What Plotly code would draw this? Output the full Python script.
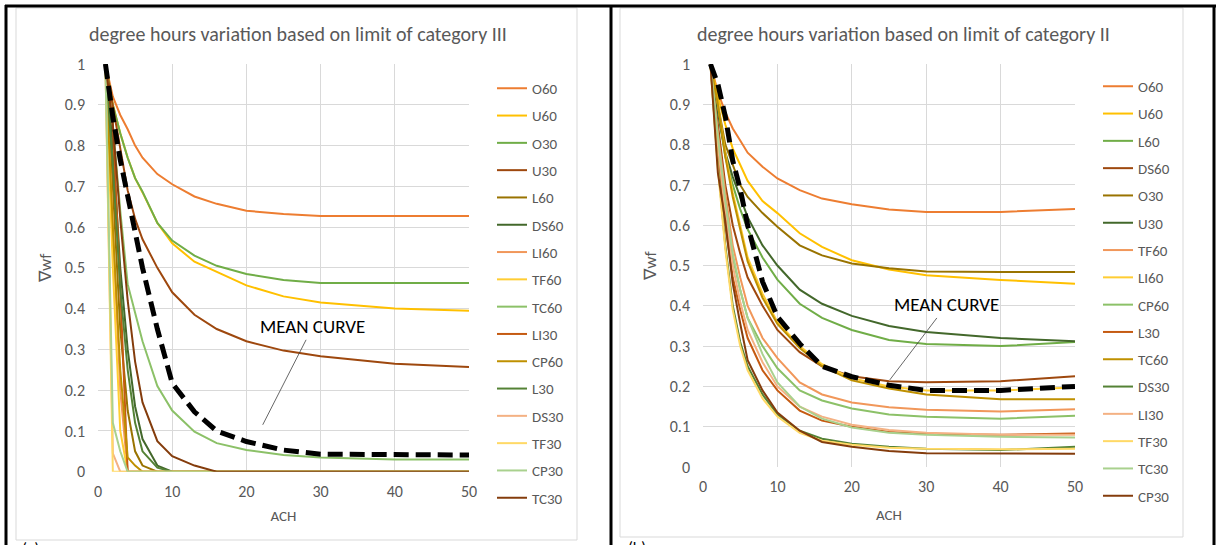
import plotly.graph_objects as go

W, H = 1216, 545
def px(x): return x / W
def py(y): return 1 - y / H

ach = [1, 2, 3, 4, 5, 6, 8, 10, 13, 16, 20, 25, 30, 40, 50]

# ---- Panel (a): limit of category III ----
names_a = ["O60", "U60", "O30", "U30", "L60", "DS60", "LI60", "TF60",
           "TC60", "LI30", "CP60", "L30", "DS30", "TF30", "CP30", "TC30"]
O60_a  = [1, 0.92, 0.875, 0.84, 0.80, 0.77, 0.73, 0.705, 0.675, 0.657, 0.64, 0.632, 0.627, 0.627, 0.627]
U60_a  = [1, 0.90, 0.83, 0.77, 0.72, 0.685, 0.61, 0.56, 0.515, 0.49, 0.457, 0.43, 0.415, 0.40, 0.395]
O30_a  = [1, 0.90, 0.83, 0.77, 0.72, 0.687, 0.61, 0.567, 0.53, 0.505, 0.485, 0.47, 0.463, 0.463, 0.463]
U30_a  = [1, 0.90, 0.79, 0.69, 0.62, 0.57, 0.50, 0.44, 0.385, 0.35, 0.32, 0.297, 0.283, 0.265, 0.257]
L60_a  = [1, 0.70, 0.35, 0.15, 0.05, 0.015, 0, 0, 0, 0, 0, 0, 0, 0, 0]
DS60_a = [1, 0.80, 0.50, 0.30, 0.16, 0.08, 0.015, 0, 0, 0, 0, 0, 0, 0, 0]
LI60_a = [1, 0.60, 0.20, 0, 0, 0, 0, 0, 0, 0, 0, 0, 0, 0, 0]
TF60_a = [1, 0.50, 0.10, 0, 0, 0, 0, 0, 0, 0, 0, 0, 0, 0, 0]
TC60_a = [1, 0.85, 0.64, 0.46, 0.39, 0.32, 0.21, 0.15, 0.098, 0.07, 0.053, 0.041, 0.035, 0.03, 0.03]
LI30_a = [1, 0.85, 0.45, 0, 0, 0, 0, 0, 0, 0, 0, 0, 0, 0, 0]
CP60_a = [1, 0.60, 0.25, 0.035, 0.015, 0, 0, 0, 0, 0, 0, 0, 0, 0, 0]
L30_a  = [1, 0.75, 0.45, 0.25, 0.12, 0.05, 0.01, 0, 0, 0, 0, 0, 0, 0, 0]
DS30_a = [1, 0.045, 0, 0, 0, 0, 0, 0, 0, 0, 0, 0, 0, 0, 0]
TF30_a = [1, 0, 0, 0, 0, 0, 0, 0, 0, 0, 0, 0, 0, 0, 0]
CP30_a = [1, 0.12, 0.05, 0, 0, 0, 0, 0, 0, 0, 0, 0, 0, 0, 0]
TC30_a = [1, 0.85, 0.62, 0.42, 0.27, 0.17, 0.075, 0.038, 0.015, 0, 0, 0, 0, 0, 0]
MEAN_a = [1, 0.87, 0.765, 0.675, 0.60, 0.50, 0.35, 0.217, 0.147, 0.10, 0.074, 0.053, 0.043, 0.041, 0.041]
series_a = [O60_a, U60_a, O30_a, U30_a, L60_a, DS60_a, LI60_a, TF60_a,
            TC60_a, LI30_a, CP60_a, L30_a, DS30_a, TF30_a, CP30_a, TC30_a]

# ---- Panel (b): limit of category II ----
names_b = ["O60", "U60", "L60", "DS60", "O30", "U30", "TF60", "LI60",
           "CP60", "L30", "TC60", "DS30", "LI30", "TF30", "TC30", "CP30"]
O60_b  = [1, 0.93, 0.88, 0.84, 0.81, 0.78, 0.745, 0.716, 0.687, 0.666, 0.652, 0.639, 0.633, 0.633, 0.64]
U60_b  = [1, 0.92, 0.85, 0.79, 0.75, 0.71, 0.66, 0.63, 0.58, 0.546, 0.513, 0.49, 0.476, 0.464, 0.455]
L60_b  = [1, 0.88, 0.77, 0.70, 0.64, 0.59, 0.52, 0.465, 0.405, 0.37, 0.34, 0.315, 0.305, 0.30, 0.31]
DS60_b = [1, 0.85, 0.70, 0.60, 0.53, 0.47, 0.40, 0.34, 0.285, 0.25, 0.225, 0.213, 0.21, 0.213, 0.225]
O30_b  = [1, 0.90, 0.80, 0.75, 0.70, 0.67, 0.63, 0.596, 0.55, 0.525, 0.505, 0.493, 0.485, 0.484, 0.484]
U30_b  = [1, 0.88, 0.78, 0.72, 0.67, 0.62, 0.55, 0.50, 0.44, 0.405, 0.375, 0.35, 0.335, 0.32, 0.312]
TF60_b = [1, 0.83, 0.68, 0.55, 0.47, 0.40, 0.32, 0.27, 0.21, 0.18, 0.16, 0.148, 0.142, 0.138, 0.143]
LI60_b = [1, 0.90, 0.78, 0.68, 0.60, 0.52, 0.43, 0.36, 0.30, 0.255, 0.22, 0.20, 0.19, 0.19, 0.197]
CP60_b = [1, 0.80, 0.65, 0.52, 0.44, 0.37, 0.30, 0.245, 0.19, 0.165, 0.145, 0.13, 0.125, 0.12, 0.127]
L30_b  = [1, 0.78, 0.60, 0.47, 0.39, 0.32, 0.24, 0.19, 0.14, 0.115, 0.10, 0.087, 0.082, 0.08, 0.083]
TC60_b = [1, 0.90, 0.77, 0.67, 0.59, 0.51, 0.42, 0.355, 0.295, 0.25, 0.215, 0.195, 0.18, 0.168, 0.168]
DS30_b = [1, 0.75, 0.55, 0.40, 0.31, 0.25, 0.18, 0.13, 0.09, 0.07, 0.058, 0.05, 0.045, 0.042, 0.05]
LI30_b = [1, 0.80, 0.63, 0.50, 0.41, 0.34, 0.26, 0.20, 0.15, 0.125, 0.105, 0.092, 0.085, 0.08, 0.08]
TF30_b = [1, 0.74, 0.54, 0.39, 0.30, 0.24, 0.17, 0.125, 0.085, 0.065, 0.055, 0.048, 0.045, 0.044, 0.045]
TC30_b = [1, 0.82, 0.66, 0.53, 0.44, 0.37, 0.28, 0.21, 0.15, 0.12, 0.098, 0.085, 0.08, 0.075, 0.073]
CP30_b = [1, 0.73, 0.61, 0.455, 0.356, 0.265, 0.19, 0.135, 0.09, 0.062, 0.05, 0.04, 0.034, 0.033, 0.033]
MEAN_b = [1, 0.95, 0.87, 0.76, 0.69, 0.60, 0.46, 0.373, 0.306, 0.25, 0.224, 0.203, 0.19, 0.19, 0.20]
series_b = [O60_b, U60_b, L60_b, DS60_b, O30_b, U30_b, TF60_b, LI60_b,
            CP60_b, L30_b, TC60_b, DS30_b, LI30_b, TF30_b, TC30_b, CP30_b]

palette = ["#ED7D31", "#FFC000", "#70AD47", "#9E480E", "#997300", "#43682B",
           "#F1975A", "#FFCD33", "#8CC168", "#C55A11", "#BF9000", "#548235",
           "#F4B183", "#FFD966", "#A9D18E", "#843C0C"]

titles = ["degree hours variation based on limit of category III",
          "degree hours variation based on limit of category II"]

FONT = "Calibri, Carlito, Lato, sans-serif"
GREY_TXT = "#595959"
GRID = "#D9D9D9"

fig = go.Figure()

panels = [(names_a, series_a, MEAN_a, "x", "y", "legend"),
          (names_b, series_b, MEAN_b, "x2", "y2", "legend2")]
for pi, (names, series, mean, xa, ya, lg) in enumerate(panels):
    for i, (nm, vals) in enumerate(zip(names, series)):
        fig.add_trace(go.Scatter(
            x=ach, y=vals, name=nm, mode="lines", xaxis=xa, yaxis=ya,
            line=dict(color=palette[i], width=2), legend=lg,
            legendgroup=f"{pi}_{nm}"))
    fig.add_trace(go.Scatter(
        x=ach, y=mean, name="MEAN CURVE", mode="lines", xaxis=xa, yaxis=ya,
        line=dict(color="black", width=5, dash="15px,7px"), showlegend=False))

axis_common = dict(showgrid=True, gridcolor=GRID, gridwidth=1, zeroline=False,
                   ticks="", tickfont=dict(family=FONT, size=16, color=GREY_TXT),
                   showline=False, automargin=False)
xtitle_font = dict(family=FONT, size=15, color=GREY_TXT)
ytitle_font = dict(family=FONT, size=17, color=GREY_TXT)

fig.update_layout(
    template="none",
    width=W, height=H, margin=dict(l=0, r=0, t=0, b=0, pad=0, autoexpand=False),
    paper_bgcolor="white", plot_bgcolor="white",
    font=dict(family=FONT, color=GREY_TXT),
    xaxis=dict(domain=[px(98), px(469)], range=[0, 50], dtick=10, anchor="y",
               ticklabelstandoff=8,
               title=dict(text="ACH", font=xtitle_font, standoff=10),
               **axis_common),
    yaxis=dict(domain=[py(471.7), py(64)], range=[0, 1], dtick=0.1, anchor="x",
               ticklabelstandoff=12,
               title=dict(text="∇wf", font=ytitle_font, standoff=8),
               **axis_common),
    xaxis2=dict(domain=[px(703), px(1075)], range=[0, 50], dtick=10, anchor="y2",
                ticklabelstandoff=8,
                title=dict(text="ACH", font=xtitle_font, standoff=14),
                **axis_common),
    yaxis2=dict(domain=[py(467), py(64)], range=[0, 1], dtick=0.1, anchor="x2",
                ticklabelstandoff=12,
                title=dict(text="∇wf", font=ytitle_font, standoff=8),
                **axis_common),
    legend=dict(x=px(492), y=py(72), xanchor="left", yanchor="top",
                font=dict(family=FONT, size=15, color=GREY_TXT),
                tracegroupgap=4.8, bgcolor="rgba(0,0,0,0)", itemwidth=30),
    legend2=dict(x=px(1098), y=py(70), xanchor="left", yanchor="top",
                 font=dict(family=FONT, size=15, color=GREY_TXT),
                 tracegroupgap=4.8, bgcolor="rgba(0,0,0,0)", itemwidth=30),
    showlegend=True,
)

shapes = []
# chart frames
shapes.append(dict(type="rect", xref="paper", yref="paper", x0=px(16), x1=px(577), y0=py(540), y1=py(8),
                   line=dict(color=GRID, width=1), layer="below"))
shapes.append(dict(type="rect", xref="paper", yref="paper", x0=px(620), x1=px(1183), y0=py(537), y1=py(8),
                   line=dict(color=GRID, width=1), layer="below"))
# black table borders
for x0, y0, x1, y1 in [(5, 6, 1216, 6), (6, 5, 6, 545), (611, 5, 611, 545), (1214, 5, 1214, 545)]:
    shapes.append(dict(type="line", xref="paper", yref="paper", x0=px(x0), x1=px(x1), y0=py(y0), y1=py(y1),
                       line=dict(color="black", width=3)))
fig.update_layout(shapes=shapes)

annotations = [
    dict(text=titles[0], xref="paper", yref="paper", x=px(298), y=py(34), showarrow=False,
         font=dict(family=FONT, size=20, color=GREY_TXT), xanchor="center", yanchor="middle"),
    dict(text=titles[1], xref="paper", yref="paper", x=px(903), y=py(34), showarrow=False,
         font=dict(family=FONT, size=20, color=GREY_TXT), xanchor="center", yanchor="middle"),
    dict(text="MEAN CURVE", xref="x", yref="y", x=22.2, y=0.115, ax=50, ay=-98,
         showarrow=True, arrowhead=0, arrowwidth=0.8, arrowcolor="#404040",
         font=dict(family=FONT, size=19, color="black")),
    dict(text="MEAN CURVE", xref="x2", yref="y2", x=25.1, y=0.216, ax=57, ay=-75,
         showarrow=True, arrowhead=0, arrowwidth=0.8, arrowcolor="#404040",
         font=dict(family=FONT, size=19, color="black")),
    dict(text="(a)", xref="paper", yref="paper", x=px(30), y=py(537), showarrow=False,
         xanchor="center", yanchor="top", font=dict(family=FONT, size=16, color="black")),
    dict(text="(b)", xref="paper", yref="paper", x=px(637), y=py(536), showarrow=False,
         xanchor="center", yanchor="top", font=dict(family=FONT, size=16, color="black")),
]
fig.update_layout(annotations=annotations)

fig.write_html("out.html")
